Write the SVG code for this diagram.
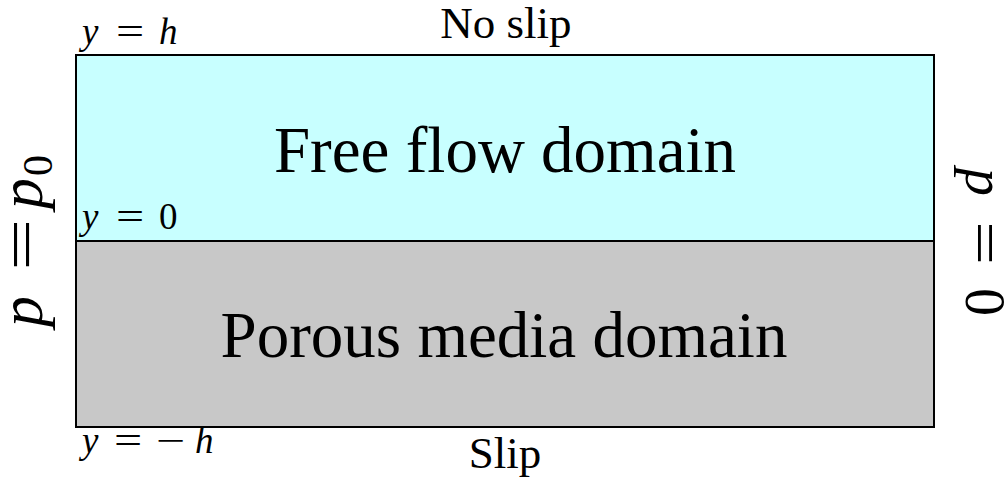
<svg xmlns="http://www.w3.org/2000/svg" width="1005" height="483" viewBox="0 0 1005 483">
  <style>
    .rm { font-family: "Liberation Serif", "Times New Roman", serif; fill: #000; }
    .it { font-style: italic; }
    .dom { stroke: #000; stroke-width: 2; }
    .big { font-size: 65px; }
    .bc { font-size: 45px; }
    .sm { font-size: 37px; }
    .lbl { font-size: 62px; }
    .lbr { font-size: 56px; }
  </style>
  <rect width="1005" height="483" fill="#fff"/>

  <!-- Upper region: free flow -->
  <g id="free-flow">
    <rect class="dom" x="76" y="55" width="858" height="186" fill="#c8ffff"/>
    <text class="rm big" x="505" y="172" text-anchor="middle">Free flow domain</text>
    <text class="rm it sm" x="82" y="229">y</text>
    <text class="rm sm" transform="translate(116,229) scale(1.35,1)">=</text>
    <text class="rm sm" x="159" y="229">0</text>
  </g>

  <!-- Lower region: porous media -->
  <g id="porous-media">
    <rect class="dom" x="76" y="241" width="858" height="186" fill="#c8c8c8"/>
    <text class="rm big" x="504" y="357" text-anchor="middle">Porous media domain</text>
  </g>

  <!-- Top wall -->
  <g id="top-boundary">
    <text class="rm it sm" x="82" y="44">y</text>
    <text class="rm sm" transform="translate(116,44) scale(1.35,1)">=</text>
    <text class="rm it sm" x="159" y="44">h</text>
    <text class="rm bc" x="506" y="38" text-anchor="middle">No slip</text>
  </g>

  <!-- Bottom wall -->
  <g id="bottom-boundary">
    <text class="rm it sm" x="82" y="453">y</text>
    <text class="rm sm" transform="translate(114,453) scale(1.35,1)">=</text>
    <text class="rm sm" transform="translate(156,453) scale(1.4,1)">−</text>
    <text class="rm it sm" x="195" y="453">h</text>
    <text class="rm bc" x="505" y="468" text-anchor="middle">Slip</text>
  </g>

  <!-- Inlet: reads bottom to top -->
  <g id="inlet" transform="rotate(-90)">
    <text class="rm it lbl" x="-327" y="42">p</text>
    <text class="rm lbl" transform="translate(-271,42) scale(1.5,1)">=</text>
    <text class="rm it lbl" x="-209" y="42">p</text>
    <text class="rm" x="-176" y="52" font-size="42">0</text>
  </g>

  <!-- Outlet: reads top to bottom -->
  <g id="outlet" transform="rotate(90)">
    <text class="rm it lbr" x="168" y="-966">p</text>
    <text class="rm lbr" transform="translate(221,-966) scale(1.4,1)">=</text>
    <text class="rm lbr" x="288" y="-966">0</text>
  </g>
</svg>
